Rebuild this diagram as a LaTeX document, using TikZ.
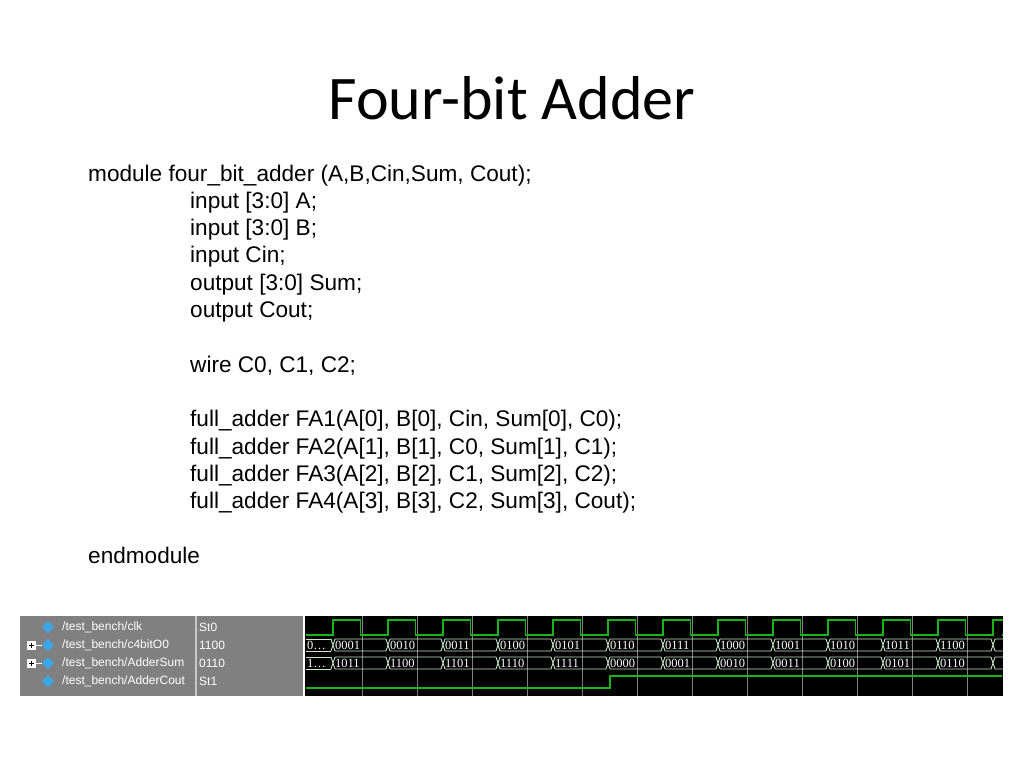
\documentclass[tikz,border=0pt]{standalone}
\usepackage{fontspec}
\setmainfont{Liberation Sans}
\newfontfamily\titlefont{Carlito}
\newfontfamily\wavefont{Liberation Serif}
\usetikzlibrary{calc}
\definecolor{panelgrey}{HTML}{808080}
\definecolor{sepgrey}{HTML}{C8C8C8}
\definecolor{wavegreen}{HTML}{18B418}
\definecolor{busline}{HTML}{C8E8C8}
\definecolor{iconblue}{HTML}{3AA8E8}
\tikzset{
  codeline/.style={anchor=base west, inner sep=0pt, font=\fontsize{22.6}{24}\selectfont},
  siglabel/.style={anchor=west, inner sep=0pt, text=white, font=\fontsize{12}{13}\selectfont},
  busval/.style={anchor=west, inner sep=0pt, text=white, font=\wavefont\fontsize{12.5}{13}\selectfont},
  wave/.style={wavegreen, line width=1.4pt},
  bus/.style={busline, line width=0.9pt}
}
\begin{document}
\begin{tikzpicture}[x=1pt,y=-1pt]
  \useasboundingbox (0,0) rectangle (1024,768);
  % title
  \node (title) at (512,98) {\titlefont\fontsize{62}{64}\selectfont Four-bit Adder};
  % code
  \node[codeline] (l0) at (88,181) {module four\_bit\_adder (A,B,Cin,Sum, Cout);};
  \node[codeline] (l1) at (190,208.3) {input [3:0] A;};
  \node[codeline] (l2) at (190,235.6) {input [3:0] B;};
  \node[codeline] (l3) at (190,262.9) {input Cin;};
  \node[codeline] (l4) at (190,290.2) {output [3:0] Sum;};
  \node[codeline] (l5) at (190,317.5) {output Cout;};
  \node[codeline] (l6) at (190,372.1) {wire C0, C1, C2;};
  \node[codeline] (l7) at (190,426.7) {full\_adder FA1(A[0], B[0], Cin, Sum[0], C0);};
  \node[codeline] (l8) at (190,454) {full\_adder FA2(A[1], B[1], C0, Sum[1], C1);};
  \node[codeline] (l9) at (190,481.3) {full\_adder FA3(A[2], B[2], C1, Sum[2], C2);};
  \node[codeline] (l10) at (190,508.6) {full\_adder FA4(A[3], B[3], C2, Sum[3], Cout);};
  \node[codeline] (l11) at (88,563.2) {endmodule};
  % wave window panels
  \fill[panelgrey] (20,616) rectangle (303,696);
  \draw[sepgrey, line width=1.2pt] (196,616) -- (196,696);
  \fill[black] (305,616) rectangle (1003,696);
  \foreach \gx in {362,417,...,1000}
    \draw[gray, line width=0.6pt] (\gx,616) -- (\gx,696);
  % signal names and values
  \foreach \nm/\vl/\yy/\plus in {clk/St0/627/0, c4bitO0/1100/645/1, AdderSum/0110/663/1, AdderCout/St1/681/0}{
    \fill[iconblue] (42,\yy) -- (48,\yy-6) -- (54,\yy) -- (48,\yy+6) -- cycle;
    \ifnum\plus=1
      \draw[white, fill=white] (27,\yy-4) rectangle (35,\yy+4);
      \draw[black, line width=0.6pt] (28.5,\yy) -- (33.5,\yy) (31,\yy-2.5) -- (31,\yy+2.5);
      \draw[white] (35,\yy) -- (42,\yy);
    \fi
    \node[siglabel] (n-\nm) at (62,\yy) {/test\_bench/\nm};
    \node[siglabel] (v-\nm) at (199,\yy) {\vl};
  }
  \begin{scope}
  \clip (305,616) rectangle (1003,696);
  % clock
  \draw[wave] (306,635)
    \foreach \t in {333,388,...,1000}{ -- (\t,635) -- (\t,620) -- (\t+27.5,620) -- (\t+27.5,635) } -- (1002,635);
  % carry out
  \draw[wave] (306,688) -- (610,688) -- (610,676) -- (1002,676);
  % buses
  \foreach \yt/\yb in {639/651, 657/669}{
    \draw[bus] (306,\yt) -- (331,\yt) (306,\yb) -- (331,\yb);
    \foreach \t in {333,388,...,1000}{
      \draw[bus] (\t-2,\yt) -- (\t+2,\yb) (\t-2,\yb) -- (\t+2,\yt)
        (\t+2,\yt) -- (\t+53,\yt) (\t+2,\yb) -- (\t+53,\yb);
    }
  }
  \end{scope}
  \node[busval] (c-0) at (307,645) {0\ldots};
  \node[busval] (s-0) at (307,663) {1\ldots};
  \foreach \va [count=\k] in {0001,0010,0011,0100,0101,0110,0111,1000,1001,1010,1011,1100}
    \node[busval] (c-\k) at (335+55*\k-55,645) {\va};
  \foreach \va [count=\k] in {1011,1100,1101,1110,1111,0000,0001,0010,0011,0100,0101,0110}
    \node[busval] (s-\k) at (335+55*\k-55,663) {\va};
\end{tikzpicture}
\end{document}
